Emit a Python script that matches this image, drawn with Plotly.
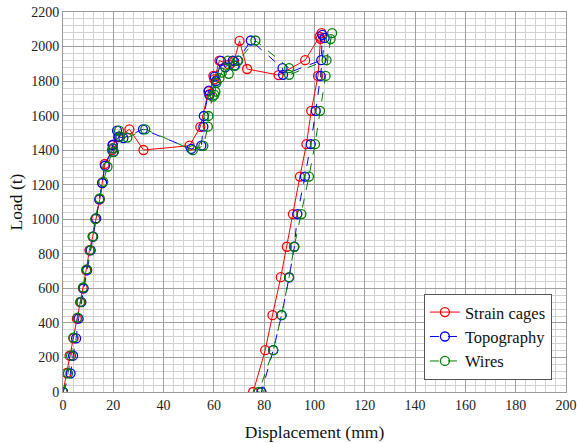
import plotly.graph_objects as go

# Load-displacement records for the three measurement methods
strain_x = [0, 1.5, 2.6, 4.2, 5.5, 6.8, 7.9, 9.2, 10.5, 11.8, 13.2, 14.6, 15.6, 16.6,
            19.5, 19.8, 22.0, 26.4, 32.0, 50.3, 54.6, 57.8, 58.3, 59.8, 60.2, 62.2,
            66.0, 68.0, 70.2, 73.2, 85.7, 96.3, 102.0, 102.8, 102.4, 101.4, 98.7,
            96.8, 94.2, 91.4, 89.0, 86.6, 83.3, 80.4, 75.6]
strain_y = [0, 110, 210, 310, 425, 520, 600, 705, 820, 900, 1005, 1115, 1210, 1320,
            1400, 1430, 1475, 1521, 1401, 1426, 1535, 1740, 1725, 1830, 1810, 1919,
            1895, 1915, 2033, 1870, 1835, 1921, 2058, 2078, 2045, 1830, 1628,
            1435, 1247, 1030, 841, 665, 445, 242, 0]

topo_x = [0, 3.0, 4.0, 5.2, 6.2, 7.3, 8.2, 9.6, 11.0, 12.0, 13.1, 14.4, 15.6, 16.7,
          19.8, 19.7, 20.0, 21.5, 22.1, 24.0, 31.8, 51.0, 55.0, 55.8, 56.0, 58.0,
          58.2, 60.3, 60.8, 62.8, 64.5, 67.5, 68.2, 69.5, 74.7, 87.3, 87.5, 102.7,
          103.1, 104.0, 102.4, 100.5, 98.5, 96.2, 93.2, 92.0, 89.9, 86.9, 83.6, 78.9]
topo_y = [0, 108, 210, 310, 425, 520, 600, 705, 820, 900, 1005, 1115, 1210, 1310,
          1410, 1430, 1390, 1513, 1478, 1470, 1521, 1407, 1426, 1536, 1598, 1745,
          1720, 1826, 1800, 1917, 1880, 1919, 1890, 1919, 2035, 1875, 1836, 1921,
          2068, 2050, 1830, 1628, 1435, 1247, 1030, 841, 663, 445, 242, 0]

wires_x = [0, 2.0, 3.2, 4.1, 5.8, 7.0, 8.0, 9.4, 10.7, 11.8, 12.8, 14.6, 16.0, 17.7,
           19.9, 20.2, 22.3, 22.8, 25.6, 32.7, 51.6, 55.8, 57.6, 57.8, 59.5, 60.6,
           60.2, 61.0, 62.2, 63.1, 65.6, 65.9, 68.5, 69.7, 76.5, 89.9, 89.9, 104.8,
           107.0, 106.4, 104.4, 102.2, 100.2, 97.8, 94.8, 91.9, 89.9, 86.9, 83.6, 77.8]
wires_y = [0, 108, 210, 315, 431, 522, 605, 710, 821, 900, 1001, 1121, 1217, 1304,
           1411, 1390, 1513, 1478, 1473, 1521, 1400, 1425, 1536, 1598, 1710, 1739,
           1720, 1790, 1817, 1849, 1919, 1842, 1890, 1919, 2035, 1875, 1836, 1921,
           2078, 2043, 1830, 1628, 1435, 1247, 1030, 841, 665, 445, 242, 0]

x_ticks = list(range(0, 201, 20))
y_ticks = list(range(0, 2201, 200))

serif = "Liberation Serif"

fig = go.Figure()

series = [
    ("Strain cages", strain_x, strain_y, "#ff0000", "solid"),
    ("Topography", topo_x, topo_y, "#0000ff", "dash"),
    ("Wires", wires_x, wires_y, "#008000", "dash"),
]
for name, xs, ys, color, dash in series:
    fig.add_trace(go.Scatter(
        x=xs, y=ys, name=name, mode="lines+markers",
        line=dict(color=color, width=1, dash=dash),
        marker=dict(symbol="circle-open", size=9, color=color,
                    line=dict(color=color, width=1.3)),
    ))

axis_common = dict(
    showline=True, linecolor="#9a9a9a", linewidth=1, mirror=True,
    showgrid=True, gridcolor="#a0a0a0", gridwidth=1,
    zeroline=False, ticks="", ticklabeloverflow="allow", automargin=False,
    tickfont=dict(family=serif, size=14, color="#222222"),
)

fig.update_xaxes(
    range=[0, 200], tickvals=x_ticks, ticktext=[str(v) for v in x_ticks],
    minor=dict(dtick=4, showgrid=True, gridcolor="#d2d2d2", gridwidth=1),
    title=dict(text="Displacement (mm)", font=dict(family=serif, size=17.5, color="#111111"),
               standoff=13),
    **axis_common,
)
fig.update_yaxes(
    range=[0, 2200], tickvals=y_ticks, ticktext=[str(v) for v in y_ticks],
    minor=dict(dtick=40, showgrid=True, gridcolor="#d2d2d2", gridwidth=1),
    title=dict(text="Load (t)", font=dict(family=serif, size=17.5, color="#111111"),
               standoff=4),
    **axis_common,
)

fig.update_layout(
    width=577, height=443,
    margin=dict(l=63, r=11, t=12, b=51),
    paper_bgcolor="white", plot_bgcolor="white",
    font=dict(family=serif),
    showlegend=True,
    legend=dict(
        x=0.972, y=0.032, xanchor="right", yanchor="bottom",
        bgcolor="white", bordercolor="#555555", borderwidth=1,
        font=dict(family=serif, size=16.5, color="#111111"),
        tracegroupgap=0,
    ),
)

fig.write_html("out.html")
